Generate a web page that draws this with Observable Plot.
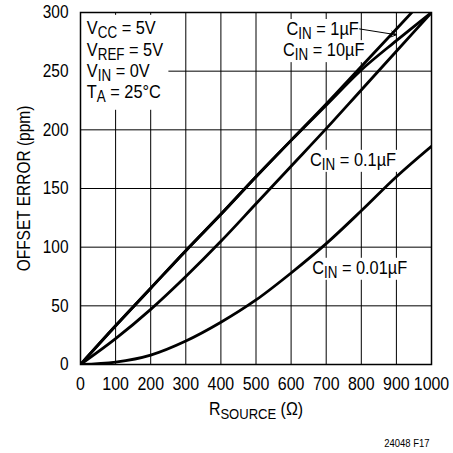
<!DOCTYPE html>
<html><head><meta charset="utf-8">
<script src="https://cdn.jsdelivr.net/npm/d3@7"></script>
<script src="https://cdn.jsdelivr.net/npm/@observablehq/plot@0.6"></script>
<style>
html,body{margin:0;padding:0;background:#fff;}
#chart svg{display:block;}
</style></head><body><div id="chart"></div>
<script>
// ---- data ----
const rSource = [0,100,200,300,400,500,600,700,800,900,1000];
const cin10uF  = [0,33,65,97,128,160,191,222,254,286,318];
const cin1uF   = [0,33,65,97,128,160,191,221,251,276,300];
const cin01uF  = [0,22,47,75,105,137,169,201,234,267,300];
const cin001uF = [0,2,8,20,36,55,78,103,131,160,186];
const xTicks = [0,100,200,300,400,500,600,700,800,900,1000];
const yTicks = [0,50,100,150,200,250,300];
const conditions = ["V_{CC} = 5V","V_{REF} = 5V","V_{IN} = 0V","T_{A} = 25°C"];
const seriesNames = ["C_{IN} = 10µF","C_{IN} = 1µF","C_{IN} = 0.1µF","C_{IN} = 0.01µF"];
const seriesValues = [cin10uF, cin1uF, cin01uF, cin001uF];
const xTitle = "R_{SOURCE} (Ω)";
const yTitle = "OFFSET ERROR (ppm)";
const figId = "24048 F17";

// annotation anchors (data space)
const condX = 18;
const condY = [287, 268.5, 250, 232.5];
const labelAnchors = [
  {text: seriesNames[1], x: 587, y: 286},
  {text: seriesNames[0], x: 577, y: 268},
  {text: seriesNames[2], x: 654, y: 174.5},
  {text: seriesNames[3], x: 660, y: 82.5}
];
const arrowSpec = [{x1: 795, y1: 286, x2: 900, y2: 281}];

const rows = [];
seriesNames.forEach((s, k) => rSource.forEach((x, i) => rows.push({series: s, x, y: seriesValues[k][i]})));
const condRows = conditions.map((t, i) => ({text: t, x: condX, y: condY[i]}));

const FONT = "'Liberation Sans', Arial, sans-serif";

const svg = Plot.plot({
  width: 453, height: 453,
  marginLeft: 80, marginRight: 22, marginTop: 12, marginBottom: 89,
  style: {fontFamily: FONT, fontSize: "19px", color: "#000", background: "#fff", overflow: "visible"},
  x: {domain: [0, 1000]},
  y: {domain: [0, 300]},
  marks: [
    Plot.ruleX(xTicks.slice(1, -1), {stroke: "#000", strokeWidth: 1}),
    Plot.ruleY(yTicks.slice(1, -1), {stroke: "#000", strokeWidth: 1}),
    Plot.axisX({ticks: xTicks, tickSize: 0, tickPadding: 12, tickFormat: d => String(d), label: xTitle, labelArrow: "none", labelAnchor: "center", labelOffset: 50, fontSize: 18.5}),
    Plot.axisY({ticks: yTicks, tickSize: 0, tickPadding: 12, tickFormat: d => String(d), label: yTitle, labelArrow: "none", labelAnchor: "center", labelOffset: 63, fontSize: 18}),
    Plot.text(condRows, {x: "x", y: "y", text: "text", textAnchor: "start", lineAnchor: "middle", fontSize: 19, fill: "#000"}),
    Plot.text(labelAnchors, {x: "x", y: "y", text: "text", textAnchor: "start", lineAnchor: "middle", fontSize: 19, fill: "#000"}),
    Plot.arrow(arrowSpec, {x1: "x1", y1: "y1", x2: "x2", y2: "y2", stroke: "#000", strokeWidth: 1, headLength: 9}),
    Plot.line(rows, {x: "x", y: "y", z: "series", stroke: "#000", strokeWidth: 2.8, curve: "monotone-x", clip: true}),
    Plot.frame({stroke: "#000", strokeWidth: 1.5}),
    Plot.text([figId], {frameAnchor: "bottom-right", dy: 79, dx: -2, textAnchor: "end", lineAnchor: "middle", fontSize: 11, fill: "#000"})
  ]
});
document.getElementById("chart").appendChild(svg);

const NS = "http://www.w3.org/2000/svg";
const condTexts = [], labelTexts = [];
svg.querySelectorAll("text").forEach(t => {
  const s = t.textContent;
  if (conditions.includes(s)) condTexts.push(t);
  if (seriesNames.includes(s)) labelTexts.push(t);
});

// subscripts: turn "_{...}" into lowered, smaller tspans
function richify(node) {
  const s = node.textContent;
  if (!s.includes("_{")) return;
  while (node.firstChild) node.removeChild(node.firstChild);
  const re = /_\{([^}]*)\}/g; let last = 0, m, shifted = false;
  const add = (txt, sub) => {
    const ts = document.createElementNS(NS, "tspan");
    ts.textContent = txt;
    if (sub) { ts.setAttribute("font-size", "82%"); ts.setAttribute("dy", "4"); shifted = true; }
    else if (shifted) { ts.setAttribute("dy", "-4"); shifted = false; }
    node.appendChild(ts);
  };
  while ((m = re.exec(s))) {
    if (m.index > last) add(s.slice(last, m.index), false);
    add(m[1], true);
    last = re.lastIndex;
  }
  if (last < s.length) add(s.slice(last), false);
}
svg.querySelectorAll("text").forEach(t => {
  const spans = t.querySelectorAll("tspan");
  if (spans.length) spans.forEach(richify); else richify(t);
});

// condensed lettering like the reference (Helvetica Condensed look)
svg.querySelectorAll("text").forEach(t => {
  const len = t.getComputedTextLength();
  if (len > 0) {
    t.setAttribute("textLength", (len * 0.86).toFixed(1));
    t.setAttribute("lengthAdjust", "spacingAndGlyphs");
  }
});

// white backgrounds behind annotations (hide gridlines like the reference)
function boxOf(t) {
  const b = t.getBBox();
  let e = 0, f = 0;
  const c = t.transform && t.transform.baseVal.consolidate();
  if (c) { e = c.matrix.e; f = c.matrix.f; }
  return {x: b.x + e, y: b.y + f, width: b.width, height: b.height};
}
function bgRect(parent, b, pad) {
  const r = document.createElementNS(NS, "rect");
  r.setAttribute("x", b.x - pad.l); r.setAttribute("y", b.y - pad.t);
  r.setAttribute("width", b.width + pad.l + pad.r); r.setAttribute("height", b.height + pad.t + pad.b);
  r.setAttribute("fill", "#fff");
  parent.insertBefore(r, parent.firstChild);
}
if (condTexts.length) {
  let x0 = Infinity, y0 = Infinity, x1 = -Infinity, y1 = -Infinity;
  condTexts.forEach(t => { const b = boxOf(t); x0 = Math.min(x0, b.x); y0 = Math.min(y0, b.y); x1 = Math.max(x1, b.x + b.width); y1 = Math.max(y1, b.y + b.height); });
  bgRect(condTexts[0].parentNode, {x: x0, y: y0, width: x1 - x0, height: y1 - y0}, {l: 6, r: 5, t: 2, b: 5});
}
labelTexts.forEach(t => bgRect(t.parentNode, boxOf(t), {l: 1, r: 1, t: -1, b: -1}));
</script></body></html>
